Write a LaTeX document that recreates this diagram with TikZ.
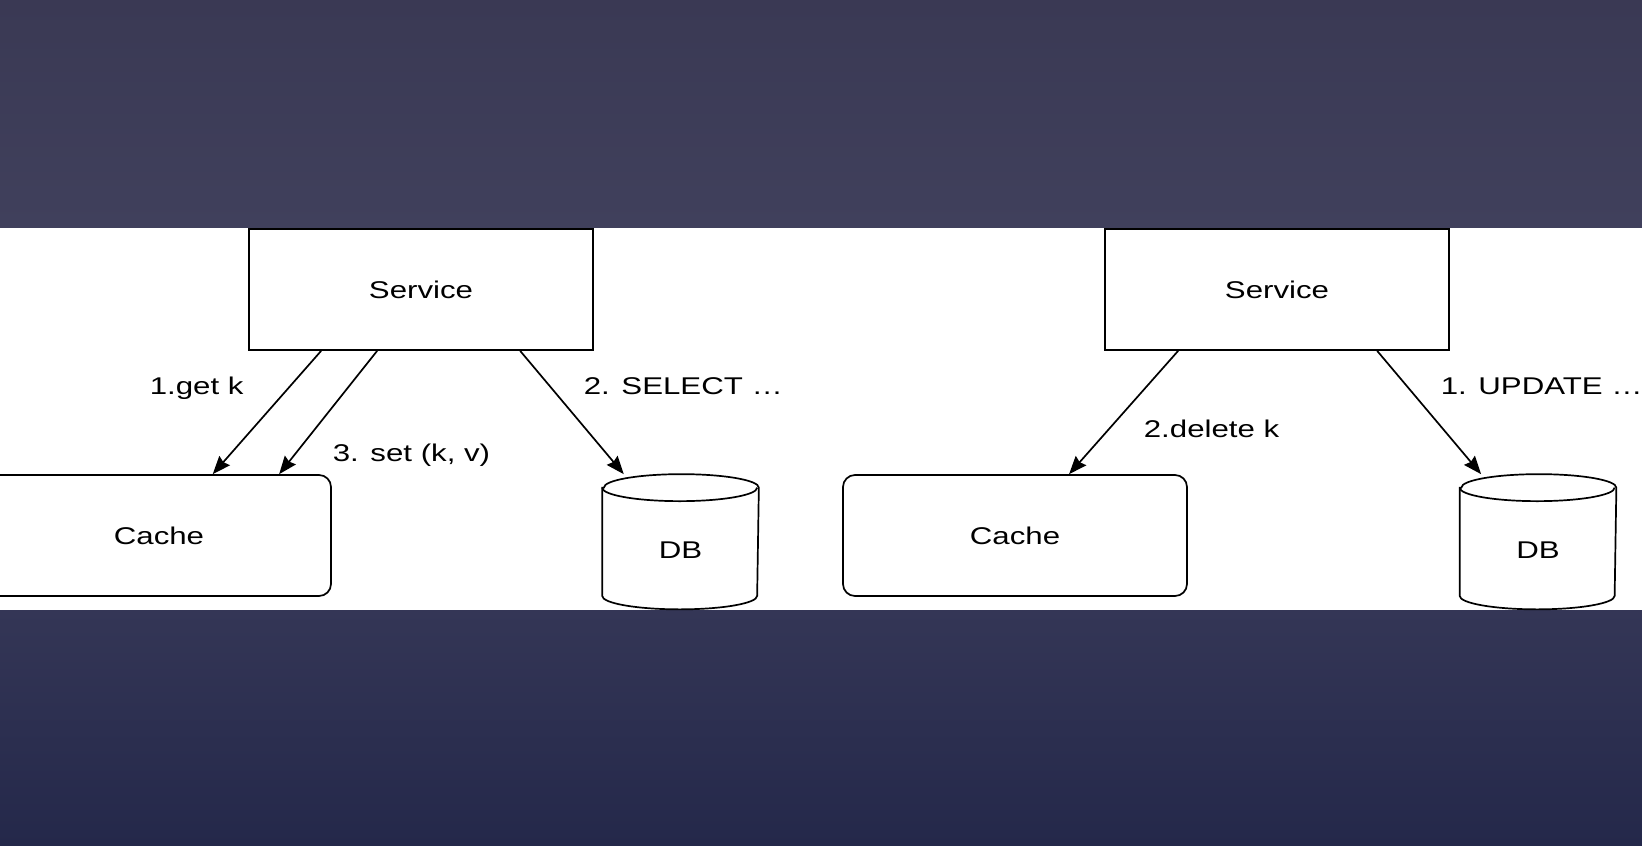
\documentclass[tikz,border=0pt]{standalone}
\usepackage{fontspec}
\setmainfont{Liberation Sans}[FakeStretch=1.29]
\usetikzlibrary{calc}
\usetikzlibrary{arrows.meta}
\tikzset{every picture/.style={line width=1.7pt}}

\begin{document}
\begin{tikzpicture}[x=1pt,y=1pt,yscale=-1,xscale=1,
  box/.style={draw, fill=white, minimum width=344, minimum height=121, inner sep=0, font=\fontsize{24.2}{29}\selectfont},
  cachebox/.style={box, rounded corners=12},
  dbshape/.style={minimum width=155, minimum height=133.5, inner sep=0},
  lbl/.style={anchor=base west, inner sep=0, font=\fontsize{24.2}{29}\selectfont},
  arr/.style={-{Stealth[length=18, width=14, inset=2]}}]
\useasboundingbox (0,0) rectangle (1642,846);

%Background
\shade [top color={rgb,255:red,58;green,57;blue,84}, bottom color={rgb,255:red,64;green,64;blue,92}] (0,0) rectangle (1642,228);
\shade [top color={rgb,255:red,52;green,54;blue,86}, bottom color={rgb,255:red,36;green,40;blue,74}] (0,610) rectangle (1642,846);
\fill [white] (0,228) rectangle (1642,610);

%Left: read path
\node (svcL) [box] at (421,289.5) {Service};
\node (cacheL) [cachebox] at (159,535.5) {Cache};
\node (dbL) [dbshape] at (680.5,541.75) {};
\draw [fill=white] ($(dbL.north west)+(0,13.5)$) -- ($(dbL.south west)+(0,-13.5)$) arc[start angle=180, end angle=0, x radius=77.5, y radius=13.5] -- ($(dbL.north east)+(0,13.5)$) arc[start angle=0, end angle=-180, x radius=77.5, y radius=13.5] -- cycle;
\draw ($(dbL.north west)+(0,13.5)$) arc[start angle=180, end angle=0, x radius=77.5, y radius=13.5];
\node (dbLtxt) [font=\fontsize{24.2}{29}\selectfont] at (680.5,550) {DB};

\draw [arr] ($(svcL.south west)+(73,0)$) -- (cacheL);
\draw [arr] ($(svcL.south west)+(129,0)$) -- ($(cacheL.north west)+(293,0)$);
\draw [arr] ($(svcL.south west)+(272,0)$) -- (dbL);

% Text Node
\node (lblGet) [lbl] at (149,394.3) {1.get k};
% Text Node
\node (lblSet) [lbl] at (332,461) {3. set (k, v)};
% Text Node
\node (lblSelect) [lbl] at (583,394.3) {2. SELECT …};

%Right: write path
\node (svcR) [box] at (1277,289.5) {Service};
\node (cacheR) [cachebox] at (1015,535.5) {Cache};
\node (dbR) [dbshape] at (1538,541.75) {};
\draw [fill=white] ($(dbR.north west)+(0,13.5)$) -- ($(dbR.south west)+(0,-13.5)$) arc[start angle=180, end angle=0, x radius=77.5, y radius=13.5] -- ($(dbR.north east)+(0,13.5)$) arc[start angle=0, end angle=-180, x radius=77.5, y radius=13.5] -- cycle;
\draw ($(dbR.north west)+(0,13.5)$) arc[start angle=180, end angle=0, x radius=77.5, y radius=13.5];
\node (dbRtxt) [font=\fontsize{24.2}{29}\selectfont] at (1538,550) {DB};

\draw [arr] ($(svcR.south west)+(74,0)$) -- (cacheR);
\draw [arr] ($(svcR.south west)+(273,0)$) -- (dbR);

% Text Node
\node (lblDelete) [lbl] at (1143,437) {2.delete k};
% Text Node
\node (lblUpdate) [lbl] at (1440,394.3) {1. UPDATE …};

\end{tikzpicture}
\end{document}
